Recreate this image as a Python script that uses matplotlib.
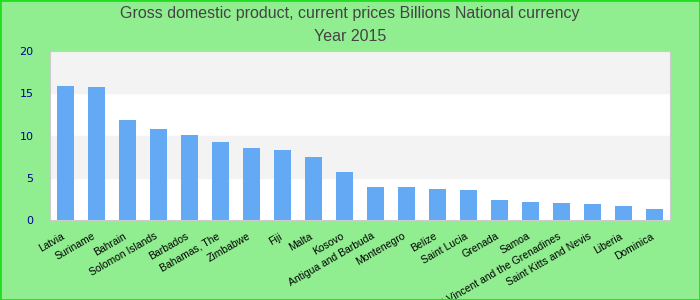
import matplotlib
matplotlib.use("Agg")
import matplotlib.pyplot as plt
import matplotlib.transforms as mtransforms

countries = ["Latvia", "Suriname", "Bahrain", "Solomon Islands", "Barbados",
             "Bahamas, The", "Zimbabwe", "Fiji", "Malta", "Kosovo",
             "Antigua and Barbuda", "Montenegro", "Belize", "Saint Lucia",
             "Grenada", "Samoa", "Saint Vincent and the Grenadines",
             "Saint Kitts and Nevis", "Liberia", "Dominica"]
gdp = [15.86, 15.74, 11.83, 10.77, 10.06, 9.23, 8.5, 8.3, 7.46, 5.68,
       3.9, 3.9, 3.67, 3.55, 2.37, 2.13, 2.0, 1.9, 1.66, 1.3]
yticks = [0, 5, 10, 15, 20]

plt.rcParams['font.family'] = ['Liberation Sans', 'DejaVu Sans']

fig = plt.figure(figsize=(7, 3), dpi=100, facecolor='#90ee90')
fig.patches.append(plt.Rectangle((0, 0), 1, 1, transform=fig.transFigure,
                                 fill=False, edgecolor='#22dd22', linewidth=2))
ax = fig.add_axes([50/700, 80/300, 620/700, 169/300])
ax.set_facecolor('white')

# alternating bands
for i in range(len(yticks) - 1):
    if i % 2 == 1:
        ax.axhspan(yticks[i], yticks[i+1], color='#f3f3f3', zorder=0)

x = range(len(countries))
ax.bar(x, gdp, width=0.55, color='#63a9f4', zorder=2)
ax.set_xlim(-0.5, len(countries) - 0.5)
ax.set_ylim(0, 20)
ax.set_yticks(yticks)
ax.set_yticklabels([str(v) for v in yticks], family='DejaVu Sans')
ax.tick_params(axis='y', length=0, colors='#000099', labelsize=8, pad=12)
ax.set_xticks(list(x))
ax.set_xticklabels(countries, rotation=30, ha='right', rotation_mode='anchor',
                   fontsize=7.5)
ax.tick_params(axis='x', length=0, pad=8)
shift = mtransforms.ScaledTranslation(-4/100, 0, fig.dpi_scale_trans)
for lbl in ax.get_xticklabels():
    lbl.set_transform(lbl.get_transform() + shift)
for s in ax.spines.values():
    s.set_color('#cccccc')

fig.text(0.5, 0.955, "Gross domestic product, current prices Billions National currency",
         ha='center', va='center', fontsize=11.5, color='#444444')
fig.text(0.5, 0.878, "Year 2015", ha='center', va='center', fontsize=11.5, color='#444444')

fig.savefig("out.png", dpi=100, facecolor=fig.get_facecolor())
